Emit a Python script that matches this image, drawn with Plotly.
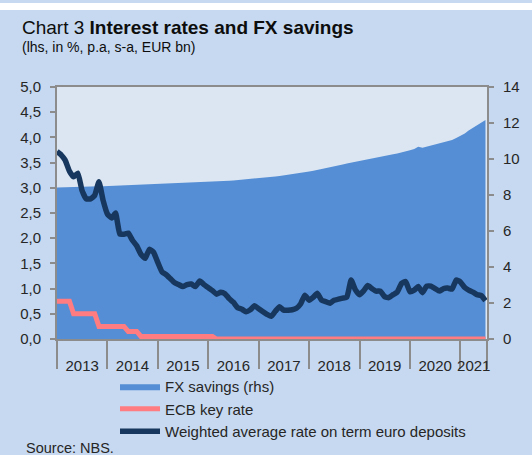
import pandas as pd
import plotly.graph_objects as go

# ---- data (monthly, Jan 2013 - Jul 2021) ----
months = pd.date_range("2013-01-01", periods=103, freq="MS").strftime("%Y-%m-%d").tolist()

fx_savings = [  # EUR bn (rhs)
    8.42, 8.43, 8.43, 8.44, 8.44, 8.45, 8.45, 8.46, 8.46, 8.47, 8.48, 8.48,
    8.49, 8.50, 8.50, 8.51, 8.52, 8.52, 8.53, 8.54, 8.55, 8.56, 8.57, 8.58,
    8.59, 8.60, 8.61, 8.62, 8.63, 8.64, 8.65, 8.66, 8.67, 8.68, 8.69, 8.70,
    8.72, 8.73, 8.75, 8.76, 8.78, 8.79, 8.81, 8.83, 8.84, 8.86, 8.88, 8.90,
    8.93, 8.95, 8.98, 9.00, 9.03, 9.06, 9.09, 9.12, 9.15, 9.18, 9.22, 9.26,
    9.30, 9.35, 9.39, 9.44, 9.49, 9.54, 9.59, 9.64, 9.69, 9.75, 9.80, 9.86,
    9.92, 9.97, 10.01, 10.06, 10.10, 10.14, 10.18, 10.22, 10.27, 10.31, 10.36, 10.40,
    10.48, 10.55, 10.68, 10.62, 10.68, 10.74, 10.80, 10.86, 10.92, 10.98, 11.06, 11.16,
    11.28, 11.42, 11.58, 11.72, 11.86, 12.00, 12.17,
]

ecb_rate = (  # % (lhs)
    [0.75] * 4 + [0.50] * 6 + [0.25] * 7 + [0.15] * 3 + [0.05] * 18 + [0.00] * 65
)

term_rate = [  # % (lhs)
    3.72, 3.65, 3.55, 3.33, 3.22, 3.29, 2.95, 2.78, 2.78, 2.85, 3.12, 2.75,
    2.48, 2.40, 2.50, 2.08, 2.08, 2.10, 1.96, 1.85, 1.68, 1.60, 1.78, 1.72,
    1.52, 1.33, 1.28, 1.20, 1.12, 1.08, 1.04, 1.08, 1.09, 1.04, 1.15, 1.08,
    1.02, 0.96, 0.89, 0.93, 0.90, 0.80, 0.73, 0.62, 0.59, 0.54, 0.58, 0.66,
    0.60, 0.54, 0.49, 0.45, 0.55, 0.64, 0.57, 0.57, 0.58, 0.61, 0.70, 0.87,
    0.77, 0.83, 0.91, 0.77, 0.74, 0.71, 0.77, 0.79, 0.81, 0.83, 1.17, 0.98,
    0.88, 0.96, 1.06, 1.00, 0.95, 0.95, 0.84, 0.82, 0.88, 0.93, 1.10, 1.14,
    0.94, 0.97, 1.04, 0.92, 1.05, 1.05, 1.00, 0.95, 1.00, 1.01, 0.99, 1.17,
    1.13, 1.02, 0.97, 0.93, 0.88, 0.86, 0.76,
]

year_labels = ["2013", "2014", "2015", "2016", "2017", "2018", "2019", "2020", "2021"]
year_label_pos = ["2013-07-02", "2014-07-02", "2015-07-02", "2016-07-02", "2017-07-02",
                  "2018-07-02", "2019-07-02", "2020-07-02", "2021-04-07"]
year_bounds = ["2013-01-01", "2014-01-01", "2015-01-01", "2016-01-01", "2017-01-01",
               "2018-01-01", "2019-01-01", "2020-01-01", "2021-01-01", "2021-07-12"]
x_range = ["2013-01-01", "2021-07-12"]

FONT = "Liberation Sans, Arial, sans-serif"
AXIS_GREY = "#8c8c8c"
TXT = "#262626"

fig = go.Figure()
fig.add_trace(go.Scatter(
    x=months, y=fx_savings, name="FX savings (rhs)", mode="lines",
    fill="tozeroy", fillcolor="#558ed5", line=dict(width=0, color="#558ed5"),
    yaxis="y"))
fig.add_trace(go.Scatter(
    x=months, y=ecb_rate, name="ECB key rate", mode="lines",
    line=dict(color="#ff7c80", width=5), yaxis="y2"))
fig.add_trace(go.Scatter(
    x=months, y=term_rate, name="Weighted average rate on term euro deposits", mode="lines",
    line=dict(color="#17375e", width=5.5, shape="spline", smoothing=0.4), yaxis="y2"))

H = 252.0  # plot height in px
W = 430.0  # plot width in px
def px_x(p):
    return (p - 57) / W
def px_y(p):
    return (339 - p) / H

fig.update_layout(
    width=532, height=455,
    margin=dict(l=57, r=45, t=87, b=116, autoexpand=False),
    paper_bgcolor="#c6d9f0", plot_bgcolor="#dce6f2",
    separators=", ",
    font=dict(family=FONT, size=15, color=TXT),
    showlegend=True,
    legend=dict(x=px_x(115), y=px_y(370), xanchor="left", yanchor="top",
                bgcolor="rgba(0,0,0,0)", font=dict(size=15, color=TXT),
                itemwidth=40, tracegroupgap=0),
    xaxis=dict(type="date", range=x_range, showgrid=False, zeroline=False,
               showline=True, linecolor=AXIS_GREY, linewidth=2, mirror=True,
               tickmode="array", tickvals=year_label_pos, ticktext=year_labels,
               ticks="", ticklabelstandoff=12, tickfont=dict(size=15, color=TXT),
               minor=dict(tickmode="array", tickvals=year_bounds, ticks="outside",
                          ticklen=28, tickwidth=2, tickcolor=AXIS_GREY, showgrid=False)),
    yaxis=dict(side="right", range=[0, 14], tickmode="linear", tick0=0, dtick=2,
               showgrid=False, zeroline=False, showline=True, linecolor=AXIS_GREY,
               linewidth=2, ticks="outside", ticklen=5, tickwidth=2, tickcolor=AXIS_GREY,
               ticklabelstandoff=6, tickfont=dict(size=15, color=TXT)),
    yaxis2=dict(overlaying="y", side="left", range=[0, 5], tickmode="linear", tick0=0,
                dtick=0.5, tickformat=".1f", showgrid=False, zeroline=False,
                showline=True, linecolor=AXIS_GREY, linewidth=2, ticks="outside",
                ticklen=5, tickwidth=2, tickcolor=AXIS_GREY, ticklabelstandoff=6,
                tickfont=dict(size=15, color=TXT)),
    shapes=[
        dict(type="rect", xref="paper", yref="paper", layer="below",
             x0=px_x(0), x1=px_x(532), y0=px_y(10), y1=px_y(3),
             fillcolor="white", line=dict(width=0)),
    ],
    annotations=[
        dict(text="Chart 3 <b>Interest rates and FX savings</b>", xref="paper", yref="paper",
             x=px_x(20), y=px_y(28), xanchor="left", yanchor="middle", showarrow=False,
             font=dict(family=FONT, size=19, color="#0d0d0d")),
        dict(text="(lhs, in %, p.a, s-a, EUR bn)", xref="paper", yref="paper",
             x=px_x(20), y=px_y(47), xanchor="left", yanchor="middle", showarrow=False,
             font=dict(family=FONT, size=14, color="#0d0d0d")),
        dict(text="Source: NBS.", xref="paper", yref="paper",
             x=px_x(24), y=px_y(448), xanchor="left", yanchor="middle", showarrow=False,
             font=dict(family=FONT, size=14.5, color=TXT)),
    ],
)

fig.write_html("out.html")
